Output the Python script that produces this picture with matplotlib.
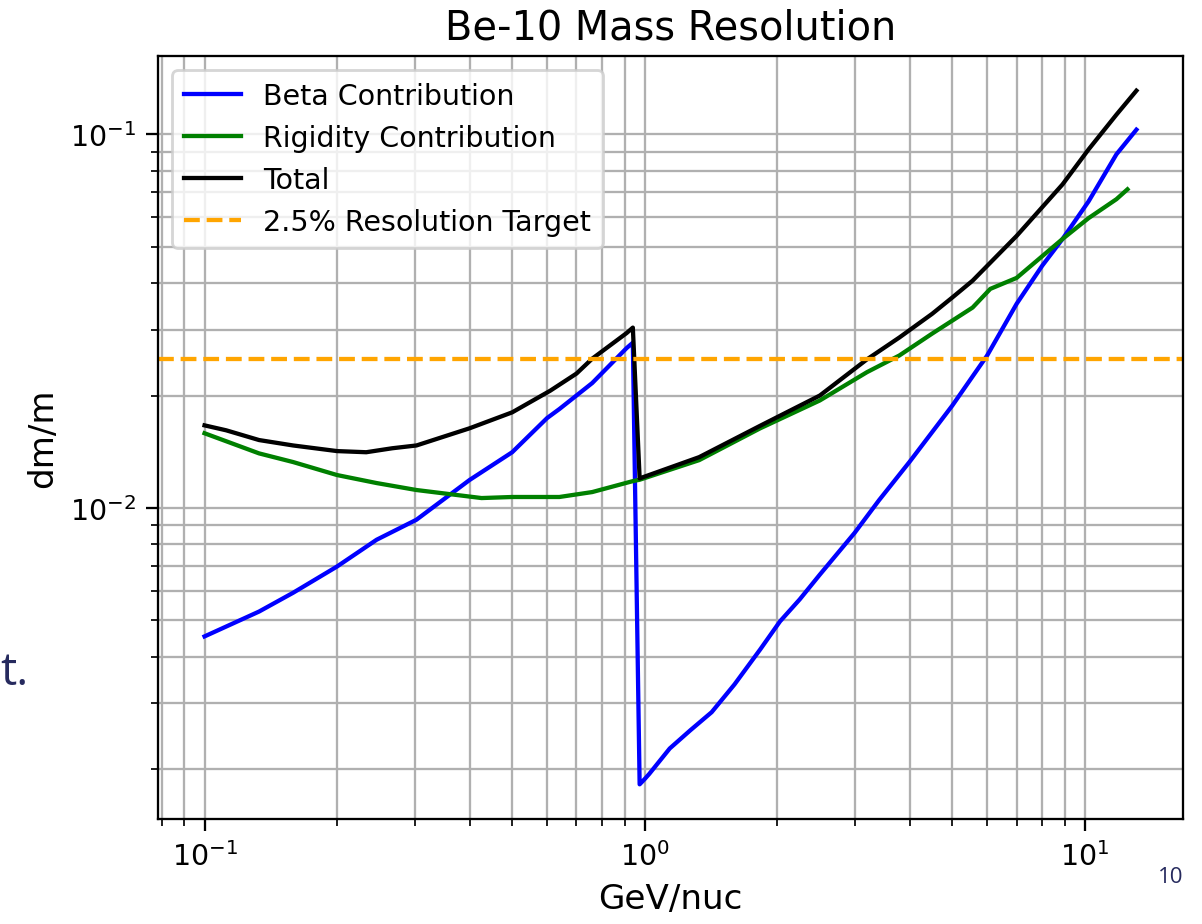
import numpy as np
import matplotlib
matplotlib.use('Agg')
import matplotlib.pyplot as plt

# values (GeV/nuc vs dm/m)
energy_beta = [0.1, 0.133, 0.159, 0.2, 0.246, 0.303, 0.4, 0.5, 0.6, 0.64, 0.76, 0.91, 0.94,
               0.974, 1.0, 1.024, 1.14, 1.27, 1.42, 1.6, 1.83, 2.03, 2.25, 2.5, 3.0, 3.41,
               4.0, 5.0, 6.0, 7.0, 8.0, 8.9, 10.2, 11.8, 13.1]
beta_contrib = [0.00453, 0.00528, 0.00593, 0.00697, 0.00822, 0.0093, 0.01188, 0.0141, 0.0174,
                0.0184, 0.0216, 0.0268, 0.0277,
                0.00182, 0.00188, 0.00194, 0.00227, 0.00254, 0.00284, 0.00337, 0.00418,
                0.00497, 0.00569, 0.00663, 0.00858, 0.0105, 0.0133, 0.0188, 0.0256,
                0.0352, 0.0445, 0.0525, 0.0662, 0.0885, 0.103]

energy_rig = [0.1, 0.133, 0.159, 0.2, 0.246, 0.303, 0.426, 0.5, 0.64, 0.76, 0.94, 0.974,
              1.33, 1.83, 2.5, 3.2, 3.79, 4.5, 5.56, 6.1, 7.0, 8.9, 10.2, 11.8, 12.5]
rig_contrib = [0.01585, 0.0140, 0.01327, 0.01225, 0.01166, 0.01117, 0.01063, 0.0107, 0.0107,
               0.01103, 0.0118, 0.0119, 0.01343, 0.01634, 0.0194, 0.0231, 0.0256, 0.0293,
               0.0344, 0.0386, 0.0413, 0.0525, 0.0597, 0.0671, 0.0713]

energy_tot = [0.1, 0.112, 0.133, 0.159, 0.2, 0.233, 0.267, 0.303, 0.4, 0.5, 0.61, 0.7, 0.76,
              0.91, 0.94, 0.974, 1.33, 1.83, 2.5, 3.2, 3.79, 4.5, 5.0, 5.56, 7.0, 8.9, 10.2,
              11.8, 13.1]
total = [0.01664, 0.01614, 0.0152, 0.0147, 0.0142, 0.0141, 0.01445, 0.0147, 0.01634, 0.01803,
         0.0206, 0.0229, 0.0251, 0.0294, 0.0304, 0.0120, 0.01368, 0.0166, 0.02, 0.025,
         0.0286, 0.0331, 0.0366, 0.0406, 0.0535, 0.0735, 0.0912, 0.113, 0.131]

target = 0.025

dpi = 205
fig = plt.figure(figsize=(1202 / dpi, 925 / dpi), dpi=dpi)
fig.subplots_adjust(left=0.1314, right=0.9842, bottom=0.1135, top=0.9384)
ax = fig.add_subplot(111)

ax.plot(energy_beta, beta_contrib, color='blue', label='Beta Contribution')
ax.plot(energy_rig, rig_contrib, color='green', label='Rigidity Contribution')
ax.plot(energy_tot, total, color='black', label='Total')
ax.axhline(target, color='orange', linestyle='--', label='2.5% Resolution Target')

ax.set_xscale('log')
ax.set_yscale('log')
ax.set_xlabel('GeV/nuc', fontsize=12)
ax.set_ylabel('dm/m', fontsize=12)
ax.set_title('Be-10 Mass Resolution', fontsize=14)
ax.tick_params(which='major', length=4.1)
ax.tick_params(which='minor', length=2.4)
ax.grid(True, which='both')
ax.legend(loc='upper left')

# bits of the surrounding slide
fig.text(0.0, 0.2595, 't.', ha='left', va='baseline', fontsize=16,
         family='Open Sans', color='#262a5e')
fig.text(0.9842, 0.045, '10', ha='right', va='baseline', fontsize=7.8,
         family='Open Sans', color='#262a5e')

fig.savefig('out.png', dpi=dpi)
